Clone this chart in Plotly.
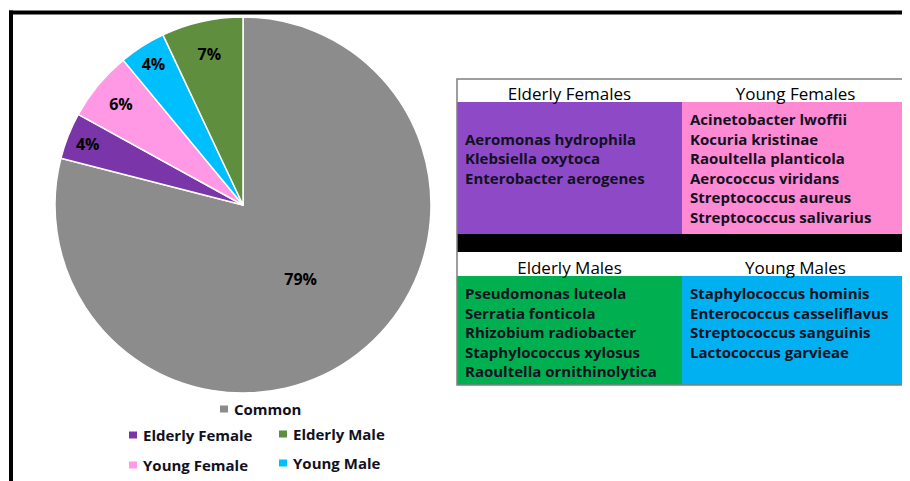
import plotly.graph_objects as go

# the page body keeps an 8px margin, so the figure is drawn 8px smaller
OFF = 8
W, H = 910 - OFF, 481 - OFF

# pie data
labels = ["Common", "Elderly Female", "Young Female", "Young Male", "Elderly Male"]
values = [79, 4, 6, 4, 7]
colors = ["#8c8c8c", "#7a36a8", "#ff99e6", "#00bfff", "#5e8e3e"]

# table data
female_headers = ["Elderly Females", "Young Females"]
male_headers = ["Elderly Males", "Young Males"]
elderly_female_sp = ["Aeromonas hydrophila", "Klebsiella oxytoca", "Enterobacter aerogenes"]
young_female_sp = ["Acinetobacter lwoffii", "Kocuria kristinae", "Raoultella planticola",
                   "Aerococcus viridans", "Streptococcus aureus", "Streptococcus salivarius"]
elderly_male_sp = ["Pseudomonas luteola", "Serratia fonticola", "Rhizobium radiobacter",
                   "Staphylococcus xylosus", "Raoultella ornithinolytica"]
young_male_sp = ["Staphylococcus hominis", "Enterococcus casseliflavus",
                 "Streptococcus sanguinis", "Lactococcus garvieae"]


# window pixel -> paper coords
def px(x):
    return (x - OFF) / W


def py(y):
    return 1 - (y - OFF) / H


def bold_lines(items, pad=0):
    return "\u00a0<br>" * pad + "<br>".join("<b>%s</b>" % s for s in items)


FONT = "'Open Sans', sans-serif"
TXT = "#111122"

fig = go.Figure()

# pie
r = 188
fig.add_trace(go.Pie(
    labels=labels, values=values, sort=False, direction="clockwise", rotation=0,
    marker=dict(colors=colors, line=dict(color="white", width=1.5)),
    textinfo="percent", textposition="inside", insidetextorientation="horizontal",
    textfont=dict(family=FONT, size=16, color="black", weight="bold"),
    domain=dict(x=[px(243 - r), px(243 + r)], y=[py(205 + r), py(205 - r)]),
    showlegend=False, hoverinfo="label+percent",
))

# tables
purple, pink, green, blue = "#8e4ac6", "#ff8ad4", "#00b050", "#00b0f0"
hdr = dict(height=22, align="center", fill_color="white",
           line=dict(color="white", width=1),
           font=dict(family=FONT, size=17, color="black"))

fills_f = [[purple, "black"], [pink, "black"]]
fig.add_trace(go.Table(
    domain=dict(x=[px(457), px(909)], y=[py(253), py(79)]),
    columnwidth=[225, 227],
    header=dict(values=female_headers, **hdr),
    cells=dict(values=[[bold_lines(elderly_female_sp, 1), ""],
                       [bold_lines(young_female_sp), ""]],
               height=20, align="left", fill_color=fills_f,
               line=dict(color=fills_f, width=1),
               font=dict(family=FONT, size=15, color=TXT)),
))

fills_m = [[green], [blue]]
fig.add_trace(go.Table(
    domain=dict(x=[px(457), px(909)], y=[py(385), py(253)]),
    columnwidth=[225, 227],
    header=dict(values=male_headers, **hdr),
    cells=dict(values=[[bold_lines(elderly_male_sp)], [bold_lines(young_male_sp)]],
               height=20, align="left", fill_color=fills_m,
               line=dict(color=fills_m, width=1),
               font=dict(family=FONT, size=15, color=TXT)),
))

# frame lines
fig.add_shape(type="line", xref="paper", yref="paper", x0=px(9), x1=1,
              y0=py(12.5), y1=py(12.5), line=dict(color="black", width=4))
fig.add_shape(type="line", xref="paper", yref="paper", x0=px(11), x1=px(11),
              y0=py(10.5), y1=0, line=dict(color="black", width=4))
fig.add_shape(type="rect", xref="paper", yref="paper", x0=px(457), x1=px(909),
              y0=py(79), y1=py(385), line=dict(color="#7f7f7f", width=1.5))

# legend
legend_pos = {
    "Common": (224, 409),
    "Elderly Female": (133, 435),
    "Elderly Male": (283, 434),
    "Young Female": (133, 465),
    "Young Male": (283, 463),
}
for lab, col in zip(labels, colors):
    lx, ly = legend_pos[lab]
    fig.add_shape(type="rect", xref="paper", yref="paper",
                  x0=px(lx - 4), x1=px(lx + 4), y0=py(ly + 3.5), y1=py(ly - 3.5),
                  fillcolor=col, line=dict(width=0))
    fig.add_annotation(x=px(lx + 8), y=py(ly), xref="paper", yref="paper",
                       text="<b>%s</b>" % lab, showarrow=False, xanchor="left", yanchor="middle",
                       font=dict(family=FONT, size=15, color=TXT))

fig.update_layout(width=W, height=H, margin=dict(l=0, r=0, t=0, b=0),
                  paper_bgcolor="white", plot_bgcolor="white",
                  uniformtext=dict(minsize=16, mode="show"))

fig.write_html("out.html")
